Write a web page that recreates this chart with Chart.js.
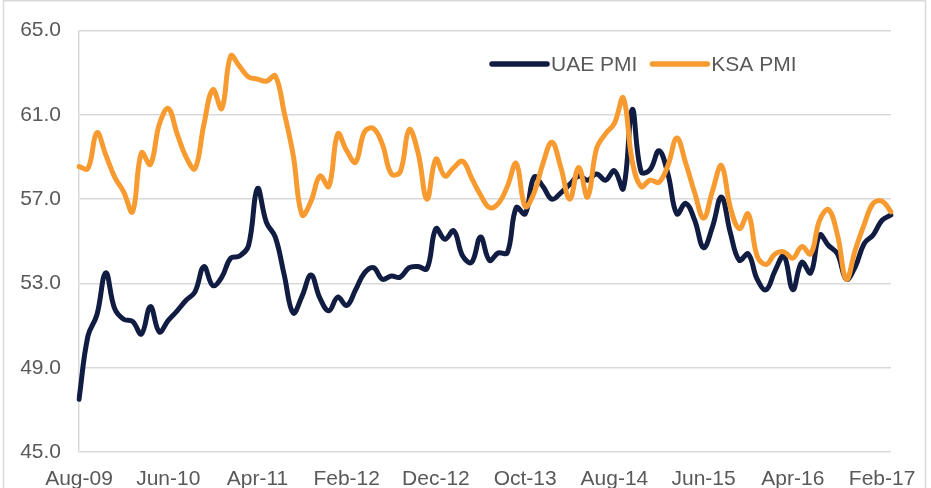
<!DOCTYPE html>
<html>
<head>
<meta charset="utf-8">
<title>UAE vs KSA PMI</title>
<script src="https://cdn.jsdelivr.net/npm/chart.js@4.4.1/dist/chart.umd.min.js"></script>
<style>
    html, body { margin: 0; padding: 0; background: #fff; }
    #wrap { width: 931px; height: 488px; position: relative; }
</style>
</head>
<body>
<div id="wrap"><canvas id="pmiChart" width="931" height="488"></canvas></div>
<script>
// --- Data ---
const months = [
    'Aug-09', 'Sep-09', 'Oct-09', 'Nov-09', 'Dec-09',
    'Jan-10', 'Feb-10', 'Mar-10', 'Apr-10', 'May-10', 'Jun-10', 'Jul-10', 'Aug-10', 'Sep-10', 'Oct-10', 'Nov-10', 'Dec-10',
    'Jan-11', 'Feb-11', 'Mar-11', 'Apr-11', 'May-11', 'Jun-11', 'Jul-11', 'Aug-11', 'Sep-11', 'Oct-11', 'Nov-11', 'Dec-11',
    'Jan-12', 'Feb-12', 'Mar-12', 'Apr-12', 'May-12', 'Jun-12', 'Jul-12', 'Aug-12', 'Sep-12', 'Oct-12', 'Nov-12', 'Dec-12',
    'Jan-13', 'Feb-13', 'Mar-13', 'Apr-13', 'May-13', 'Jun-13', 'Jul-13', 'Aug-13', 'Sep-13', 'Oct-13', 'Nov-13', 'Dec-13',
    'Jan-14', 'Feb-14', 'Mar-14', 'Apr-14', 'May-14', 'Jun-14', 'Jul-14', 'Aug-14', 'Sep-14', 'Oct-14', 'Nov-14', 'Dec-14',
    'Jan-15', 'Feb-15', 'Mar-15', 'Apr-15', 'May-15', 'Jun-15', 'Jul-15', 'Aug-15', 'Sep-15', 'Oct-15', 'Nov-15', 'Dec-15',
    'Jan-16', 'Feb-16', 'Mar-16', 'Apr-16', 'May-16', 'Jun-16', 'Jul-16', 'Aug-16', 'Sep-16', 'Oct-16', 'Nov-16', 'Dec-16',
    'Jan-17', 'Feb-17', 'Mar-17'
];

const uaePmi = [
    47.5, 50.5, 51.5, 53.5, 51.8, 51.3, 51.2, 50.6, 51.9, 50.7,
    51.25, 51.7, 52.2, 52.6, 53.8, 52.9, 53.3, 54.2, 54.3, 54.8,
    57.5, 55.9, 55.2, 53.4, 51.6, 52.4, 53.4, 52.3, 51.7, 52.35,
    51.95, 52.7, 53.5, 53.75, 53.2, 53.35, 53.3, 53.75, 53.8, 53.7,
    55.6, 55.1, 55.5, 54.3, 54.0, 55.2, 54.1, 54.45, 54.45, 56.6,
    56.3, 58.05, 57.6, 57.0, 57.3, 57.7, 58.1, 57.9, 58.2, 57.9,
    58.35, 57.5, 61.25, 58.3, 58.4, 59.3, 58.2, 56.3, 56.8, 56.0,
    54.7, 55.7, 57.1, 55.4, 54.1, 54.4, 53.2, 52.7, 53.6, 54.3,
    52.7, 54.0, 53.5, 55.3, 54.8, 54.4, 53.2, 53.8, 54.9, 55.3,
    56.0, 56.25
];

const ksaPmi = [
    58.55, 58.45, 60.15, 59.1, 58.05, 57.35, 56.4, 59.2, 58.65, 60.55,
    61.3, 60.1, 59.0, 58.45, 60.55, 62.2, 61.3, 63.8, 63.3, 62.8,
    62.7, 62.6, 62.85, 61.1, 59.1, 56.25, 56.9, 58.1, 57.6, 60.1,
    59.3, 58.75, 60.2, 60.35, 59.6, 58.2, 58.3, 60.3, 59.2, 57.0,
    58.9, 58.1, 58.5, 58.8, 58.0, 57.2, 56.6, 56.8, 57.6, 58.7,
    56.65, 57.3, 58.7, 59.7, 58.5, 57.0, 58.5, 57.1, 59.4, 60.1,
    60.6, 61.8, 58.8, 57.6, 57.9, 57.8, 58.6, 59.9, 58.7, 57.3,
    56.1, 57.4, 58.6, 56.6, 55.6, 56.3, 54.3, 53.9, 54.4, 54.5,
    54.2, 54.75, 54.4, 56.0, 56.5, 55.3, 53.2, 54.6, 55.8, 56.8,
    56.9, 56.4
];

const yMin = 45;
const yMax = 65;
const yStep = 4;
const labelEvery = 10;   // show every 10th month on the x axis

const navy = '#111c42';
const orange = '#f79a30';
const textGray = '#595959';
const gridGray = '#d9d9d9';
const fontFamily = '"Liberation Sans", Arial, sans-serif';

// --- Plugins ---

// white background + thin outer frame like the exported image
const framePlugin = {
    id: 'frame',
    beforeDraw(chart) {
        const ctx = chart.ctx;
        ctx.save();
        ctx.fillStyle = '#fff';
        ctx.fillRect(0, 0, chart.width, chart.height);
        ctx.strokeStyle = gridGray;
        ctx.lineWidth = 1.5;
        ctx.strokeRect(3.5, 0.75, 922, chart.height + 10);
        ctx.restore();
    }
};

// legend drawn inside the plot, top right
const legendPlugin = {
    id: 'insideLegend',
    afterDraw(chart) {
        const ctx = chart.ctx;
        const y = 64;
        const lineLen = 55;
        let x = 492;
        ctx.save();
        ctx.font = '21px ' + fontFamily;
        ctx.textBaseline = 'middle';
        ctx.lineCap = 'round';
        chart.data.datasets.forEach(ds => {
            ctx.strokeStyle = ds.borderColor;
            ctx.lineWidth = 5.5;
            ctx.beginPath();
            ctx.moveTo(x, y);
            ctx.lineTo(x + lineLen, y);
            ctx.stroke();
            x += lineLen + 4;
            ctx.fillStyle = textGray;
            ctx.fillText(ds.label, x, y + 1);
            x += ctx.measureText(ds.label).width + 15;
        });
        ctx.restore();
    }
};

// --- Chart ---
const ctx = document.getElementById('pmiChart').getContext('2d');
new Chart(ctx, {
    type: 'line',
    data: {
        labels: months,
        datasets: [{
            label: 'UAE PMI',
            data: uaePmi,
            borderColor: navy,
            backgroundColor: navy,
            borderWidth: 5,
            order: 1
        }, {
            label: 'KSA PMI',
            data: ksaPmi,
            borderColor: orange,
            backgroundColor: orange,
            borderWidth: 5,
            order: 0
        }]
    },
    options: {
        responsive: false,
        animation: false,
        devicePixelRatio: 1,
        layout: { padding: { top: 25, right: 40, left: 0, bottom: 0 } },
        elements: {
            point: { radius: 0, hoverRadius: 0 },
            line: { tension: 0.4, borderCapStyle: 'round', borderJoinStyle: 'round' }
        },
        plugins: {
            legend: { display: false },
            tooltip: { enabled: false },
            title: { display: false }
        },
        scales: {
            x: {
                type: 'category',
                offset: false,
                grid: { display: false, drawTicks: false },
                border: { display: false },
                afterFit(scale) { scale.height = 36; },
                ticks: {
                    autoSkip: false,
                    maxRotation: 0,
                    minRotation: 0,
                    padding: 15,
                    color: textGray,
                    font: { family: fontFamily, size: 21 },
                    callback(value, index) {
                        return index % labelEvery === 0 ? months[index] : '';
                    }
                }
            },
            y: {
                min: yMin,
                max: yMax,
                grid: { color: gridGray, lineWidth: 1.5, drawTicks: false },
                border: { display: true, color: gridGray, width: 1.5 },
                afterFit(scale) { scale.width = 79; },
                ticks: {
                    stepSize: yStep,
                    padding: 18,
                    color: textGray,
                    font: { family: fontFamily, size: 21 },
                    callback: v => Number(v).toFixed(1)
                }
            }
        }
    },
    plugins: [framePlugin, legendPlugin]
});
</script>
</body>
</html>
